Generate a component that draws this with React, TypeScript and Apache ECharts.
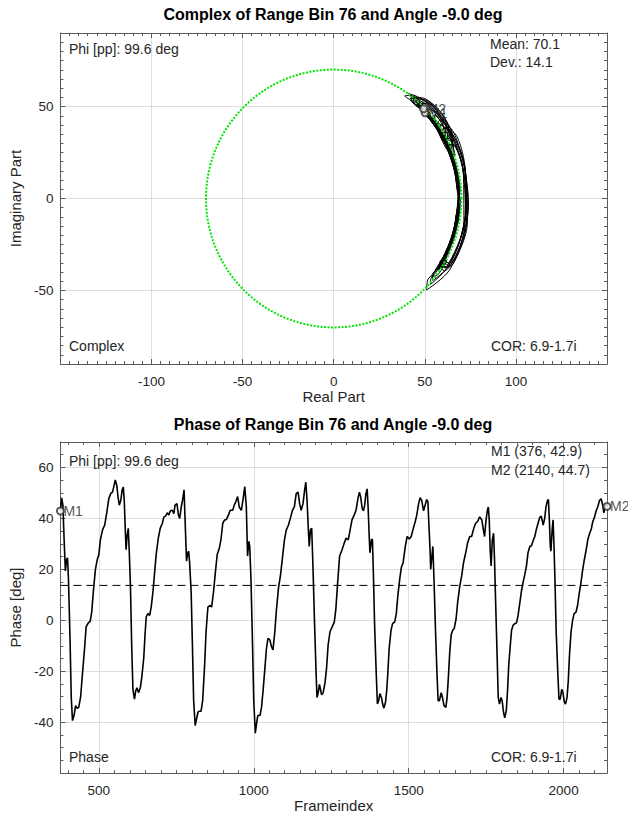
import React, { useEffect, useRef } from "react";
import * as echarts from "echarts";

// ---------- data ----------
const frames = [
  376, 380, 384, 388, 392, 396, 399, 402, 407, 411, 415, 420, 425, 429, 435, 441, 447, 454, 459, 466,
  472, 477, 483, 489, 495, 500, 505, 512, 519, 526, 532, 538, 544, 548, 553, 558, 562, 566, 571, 575,
  579, 582, 586, 588, 591, 595, 598, 602, 606, 610, 615, 619, 623, 628, 634, 639, 645, 649, 653, 658,
  664, 669, 675, 680, 685, 692, 698, 705, 710, 715, 721, 726, 731, 737, 742, 746, 752, 757, 761, 766,
  771, 775, 778, 783, 787, 790, 793, 798, 802, 806, 811, 814, 820, 824, 830, 835, 841, 846, 852, 859,
  864, 870, 876, 882, 889, 894, 900, 906, 912, 918, 924, 932, 937, 942, 948, 953, 960, 965, 971, 976,
  980, 984, 987, 991, 996, 1000, 1005, 1009, 1013, 1020, 1025, 1030, 1036, 1041, 1046, 1052, 1057, 1062, 1068, 1073,
  1080, 1086, 1092, 1099, 1105, 1112, 1118, 1125, 1131, 1137, 1143, 1148, 1153, 1159, 1164, 1168, 1172, 1176, 1179, 1183,
  1187, 1191, 1196, 1201, 1204, 1208, 1212, 1219, 1224, 1230, 1235, 1240, 1246, 1253, 1260, 1265, 1270, 1277, 1279, 1285,
  1292, 1298, 1305, 1311, 1317, 1324, 1330, 1336, 1341, 1345, 1350, 1354, 1358, 1362, 1366, 1369, 1373, 1375, 1380, 1383,
  1386, 1390, 1395, 1399, 1403, 1407, 1412, 1416, 1420, 1425, 1429, 1433, 1437, 1443, 1448, 1455, 1460, 1465, 1471, 1476,
  1482, 1489, 1495, 1502, 1508, 1515, 1521, 1526, 1532, 1537, 1542, 1548, 1553, 1558, 1562, 1565, 1569, 1571, 1575, 1578,
  1582, 1586, 1591, 1595, 1599, 1605, 1609, 1614, 1620, 1624, 1628, 1632, 1637, 1642, 1647, 1653, 1658, 1665, 1671, 1677,
  1684, 1690, 1697, 1703, 1710, 1716, 1722, 1729, 1736, 1742, 1745, 1749, 1754, 1757, 1760, 1763, 1766, 1770, 1774, 1777,
  1780, 1785, 1789, 1793, 1798, 1802, 1806, 1810, 1815, 1819, 1823, 1828, 1832, 1837, 1843, 1848, 1853, 1859, 1864, 1869,
  1875, 1880, 1885, 1891, 1896, 1901, 1907, 1912, 1918, 1923, 1928, 1934, 1939, 1943, 1948, 1951, 1954, 1957, 1959, 1963,
  1966, 1969, 1972, 1976, 1981, 1985, 1989, 1994, 1998, 2002, 2006, 2011, 2015, 2019, 2024, 2029, 2034, 2040, 2045, 2050,
  2056, 2061, 2066, 2072, 2078, 2084, 2089, 2094, 2100, 2105, 2110, 2116, 2121, 2125, 2130, 2134, 2138, 2140,
];

const phaseDeg = [
  42.9, 48.1, 45.2, 31.6, 19.4, 23.9, 24.5, 16.1, -7.1, -30.3, -39.4, -37.4, -33.5, -34.5, -34.2, -30.3, -21.3, -11.0, -2.6, -1.0,
  -0.4, 3.2, 12.3, 20.0, 23.9, 25.8, 31.6, 35.5, 37.4, 42.6, 47.7, 49.7, 50.3, 52.3, 55.1, 52.9, 48.4, 45.2, 47.1, 51.0,
  52.3, 47.1, 33.5, 27.7, 32.9, 36.1, 27.7, 13.5, -9.7, -27.1, -31.0, -27.7, -26.5, -28.4, -26.5, -21.9, -14.8, -5.8, 1.3, 2.6,
  1.9, 5.2, 11.6, 18.7, 25.8, 32.3, 36.1, 38.1, 40.6, 40.9, 42.2, 41.3, 43.0, 43.2, 41.9, 45.2, 45.8, 41.3, 40.0, 44.5,
  47.7, 51.2, 40.6, 23.2, 26.5, 27.1, 22.6, 11.0, -9.7, -31.6, -41.3, -39.5, -36.1, -35.7, -35.7, -31.6, -18.7, -4.5, 5.2, 5.8,
  5.2, 11.0, 18.7, 25.8, 28.4, 31.6, 38.1, 39.4, 39.6, 41.3, 43.2, 43.2, 45.2, 46.5, 48.6, 44.5, 43.2, 47.1, 52.5, 44.5,
  25.2, 31.0, 29.0, 16.1, -9.7, -31.6, -44.3, -40.6, -37.4, -37.4, -34.2, -27.7, -18.7, -11.0, -7.1, -7.7, -10.3, -11.6, -4.5, 3.9,
  12.9, 17.4, 23.9, 31.6, 35.5, 37.4, 40.0, 43.2, 44.5, 49.7, 50.3, 45.8, 43.2, 45.8, 51.0, 54.2, 47.1, 36.1, 29.0, 35.5,
  36.1, 21.3, -0.6, -20.0, -30.3, -28.4, -25.2, -29.3, -28.4, -24.5, -18.7, -9.7, -4.5, -2.6, -0.6, 4.5, 13.5, 25.2, 25.8, 27.7,
  30.3, 32.3, 31.6, 35.5, 39.4, 41.3, 43.2, 47.7, 50.3, 48.4, 43.9, 43.0, 45.2, 49.7, 51.6, 44.5, 31.6, 26.5, 31.9, 31.6,
  18.7, -1.9, -20.0, -32.9, -31.6, -28.8, -30.3, -32.9, -34.5, -32.3, -27.7, -20.0, -11.0, -3.9, -1.3, -0.6, 2.6, 9.7, 16.1, 20.6,
  22.6, 29.0, 32.9, 31.9, 32.9, 36.1, 38.7, 41.3, 45.8, 48.1, 47.1, 43.0, 45.2, 47.4, 46.5, 38.1, 27.7, 20.0, 25.2, 29.0,
  14.8, -1.9, -20.0, -31.6, -31.6, -28.4, -30.3, -33.5, -34.2, -30.3, -22.6, -13.5, -5.8, -3.9, -3.2, 0.6, 7.1, 13.5, 17.4, 22.6,
  26.5, 30.3, 32.9, 32.9, 36.1, 38.1, 38.7, 40.6, 39.4, 34.8, 32.9, 38.7, 43.2, 44.5, 39.4, 27.7, 21.3, 31.6, 34.2, 23.9,
  9.7, -12.3, -30.3, -32.9, -30.3, -31.9, -36.1, -38.3, -35.5, -27.7, -17.4, -9.7, -3.9, -1.9, -1.3, -1.0, 1.9, 7.1, 11.6, 14.8,
  18.1, 21.3, 26.5, 29.0, 29.3, 31.0, 32.9, 35.7, 38.3, 40.4, 40.9, 37.4, 40.0, 44.5, 47.1, 47.4, 39.4, 29.0, 27.1, 35.5,
  39.4, 29.0, 16.1, -4.5, -20.0, -31.0, -31.0, -27.1, -28.4, -31.9, -32.9, -30.3, -23.9, -13.5, -4.5, 0.0, 2.6, 3.2, 5.8, 10.3,
  14.8, 19.4, 23.2, 27.1, 31.6, 34.2, 35.7, 38.7, 40.6, 43.0, 44.5, 47.1, 47.7, 45.8, 42.2, 44.5, 45.5, 44.7,
];

// magnitude of the complex trace per breathing cycle (inner = rising phase, outer = falling phase)
const riseMagnitude = [68.5, 68, 69, 68, 69.5, 68, 69, 68.5, 69, 68.5];
const fallMagnitude = [73, 74, 72.5, 74.5, 73, 74, 73, 73.5, 74, 73];

const meanMagnitude = 70.1;
const phaseMeanLevel = 13.7;
const markerLabels = ["M1", "M2"];

const xComplexTicks = { min: -150, max: 150, interval: 50 };
const yComplexTicks = { min: -90, max: 90 };
const xPhaseTicks = { min: 376, max: 2140 };
const yPhaseTicks = { min: -60, max: 70, interval: 20 };

// ---------- derived series ----------
function buildComplex() {
  const pts: number[][] = [];
  let cycle = 0;
  const n = phaseDeg.length;
  for (let i = 0; i < n; i++) {
    if (i > 0 && phaseDeg[i - 1] < 0 && phaseDeg[i] >= 0) cycle = Math.min(cycle + 1, riseMagnitude.length - 1);
    const a = Math.max(0, i - 1);
    const b = Math.min(n - 1, i + 1);
    const slope = (phaseDeg[b] - phaseDeg[a]) / (frames[b] - frames[a]);
    const w = Math.min(1, Math.max(0, -slope / 2));
    const r = riseMagnitude[cycle] + (fallMagnitude[cycle] - riseMagnitude[cycle]) * w;
    const th = (phaseDeg[i] * Math.PI) / 180;
    pts.push([r * Math.cos(th), r * Math.sin(th)]);
  }
  return pts;
}

function buildCircle() {
  const pts: number[][] = [];
  for (let k = 0; k <= 360; k++) {
    const th = (k * Math.PI) / 180;
    pts.push([meanMagnitude * Math.cos(th), meanMagnitude * Math.sin(th)]);
  }
  return pts;
}

const FONT = '"Liberation Sans", Arial, Helvetica, sans-serif';
const AX = "#5a5a5a";
const TXT = "#262626";
const GRID = "#dedede";
const TICK_FS = 13.5;
const NOTE_FS = 14;
const NAME_FS = 15;
const TITLE_FS = 16;

function axisCommon(extra: any) {
  return {
    type: "value",
    axisLine: { show: true, onZero: false, lineStyle: { color: AX, width: 1 } },
    axisTick: { show: true, inside: true, length: 5, lineStyle: { color: AX } },
    minorTick: { show: true, splitNumber: 10, length: 3, lineStyle: { color: AX } },
    splitLine: { show: false },
    axisLabel: { show: false },
    ...extra,
  };
}

const labelStyle = {
  show: true,
  color: TXT,
  fontSize: TICK_FS,
  fontFamily: FONT,
  showMinLabel: false,
  showMaxLabel: false,
  formatter: (v: number) => String(v),
};

const nameStyle = { color: TXT, fontSize: NAME_FS, fontFamily: FONT };

export default function App() {
  const ref = useRef<HTMLDivElement>(null);

  useEffect(() => {
    if (!ref.current) return;
    const chart = echarts.init(ref.current, null, { renderer: "svg" });
    const complexPts = buildComplex();
    const circlePts = buildCircle();
    const phasePts = frames.map((f, i) => [f, phaseDeg[i]]);
    const last = phaseDeg.length - 1;

    const text = (t: string, x: number, y: number, opts: any = {}) => ({
      type: "text",
      x,
      y,
      z: 100,
      style: {
        text: t,
        fill: opts.fill || TXT,
        font: opts.font || `${NOTE_FS}px ${FONT}`,
        align: opts.align || "left",
        verticalAlign: "middle",
      },
    });

    const markerLabel = {
      show: true,
      position: "right",
      distance: -1.5,
      color: TXT,
      fontSize: NOTE_FS,
      fontFamily: FONT,
      formatter: (p: any) => markerLabels[p.dataIndex],
    };

    chart.setOption({
      animation: false,
      backgroundColor: "#ffffff",
      grid: [
        { left: 59, top: 33, width: 548, height: 331 },
        { left: 59, top: 442, width: 548, height: 332 },
      ],
      xAxis: [
        axisCommon({
          gridIndex: 0,
          position: "bottom",
          ...xComplexTicks,
          axisLabel: { ...labelStyle, margin: 10 },
          splitLine: { show: true, lineStyle: { color: GRID, width: 1 } },
          name: "Real Part",
          nameLocation: "middle",
          nameGap: 25,
          nameTextStyle: nameStyle,
        }),
        axisCommon({ gridIndex: 0, position: "top", ...xComplexTicks }),
        axisCommon({
          gridIndex: 1,
          position: "bottom",
          ...xPhaseTicks,
          splitNumber: 3,
          axisLabel: { ...labelStyle, margin: 10 },
          splitLine: { show: true, lineStyle: { color: GRID, width: 1 } },
          name: "Frameindex",
          nameLocation: "middle",
          nameGap: 24,
          nameTextStyle: nameStyle,
        }),
        axisCommon({ gridIndex: 1, position: "top", ...xPhaseTicks, splitNumber: 3 }),
      ],
      yAxis: [
        axisCommon({
          gridIndex: 0,
          position: "left",
          ...yComplexTicks,
          splitNumber: 4,
          axisLabel: { ...labelStyle, margin: 7 },
          splitLine: { show: true, lineStyle: { color: GRID, width: 1 } },
          name: "Imaginary Part",
          nameLocation: "middle",
          nameGap: 33,
          nameRotate: 90,
          nameTextStyle: nameStyle,
        }),
        axisCommon({ gridIndex: 0, position: "right", ...yComplexTicks, splitNumber: 4 }),
        axisCommon({
          gridIndex: 1,
          position: "left",
          ...yPhaseTicks,
          minorTick: { show: true, splitNumber: 4, length: 3, lineStyle: { color: AX } },
          axisLabel: { ...labelStyle, margin: 7 },
          splitLine: { show: true, lineStyle: { color: GRID, width: 1 } },
          name: "Phase [deg]",
          nameLocation: "middle",
          nameGap: 33,
          nameRotate: 90,
          nameTextStyle: nameStyle,
        }),
        axisCommon({
          gridIndex: 1,
          position: "right",
          ...yPhaseTicks,
          minorTick: { show: true, splitNumber: 4, length: 3, lineStyle: { color: AX } },
        }),
      ],
      series: [
        {
          type: "line",
          xAxisIndex: 0,
          yAxisIndex: 0,
          data: complexPts,
          showSymbol: false,
          smooth: 0.3,
          lineStyle: { color: "#000000", width: 1 },
          z: 3,
        },
        {
          type: "line",
          xAxisIndex: 0,
          yAxisIndex: 0,
          data: circlePts,
          showSymbol: false,
          lineStyle: { color: "#00e600", width: 2, type: [2, 1.5] },
          z: 4,
        },
        {
          type: "scatter",
          xAxisIndex: 0,
          yAxisIndex: 0,
          data: [complexPts[0], complexPts[last]],
          symbol: "emptyCircle",
          symbolSize: 7,
          clip: false,
          itemStyle: { color: "#333333", borderWidth: 0.8 },
          label: markerLabel,
          z: 5,
        },
        {
          type: "line",
          xAxisIndex: 2,
          yAxisIndex: 2,
          data: phasePts,
          showSymbol: false,
          lineStyle: { color: "#000000", width: 1.6 },
          z: 3,
        },
        {
          type: "line",
          xAxisIndex: 2,
          yAxisIndex: 2,
          data: [
            [xPhaseTicks.min, phaseMeanLevel],
            [xPhaseTicks.max, phaseMeanLevel],
          ],
          showSymbol: false,
          lineStyle: { color: "#000000", width: 1, type: [8, 5] },
          z: 2,
        },
        {
          type: "scatter",
          xAxisIndex: 2,
          yAxisIndex: 2,
          data: [phasePts[0], phasePts[last]],
          symbol: "emptyCircle",
          symbolSize: 7,
          clip: false,
          itemStyle: { color: "#333333", borderWidth: 0.8 },
          label: markerLabel,
          z: 5,
        },
      ],
      graphic: [
        text("Complex of Range Bin 76 and Angle -9.0 deg", 333, 14, {
          font: `bold ${TITLE_FS}px ${FONT}`,
          align: "center",
          fill: "#000000",
        }),
        text("Phi [pp]: 99.6 deg", 69, 49),
        text("Mean: 70.1", 490, 44),
        text("Dev.: 14.1", 490, 62),
        text("Complex", 69, 346),
        text("COR: 6.9-1.7i", 491, 346),
        text("Phase of Range Bin 76 and Angle -9.0 deg", 333, 424, {
          font: `bold ${TITLE_FS}px ${FONT}`,
          align: "center",
          fill: "#000000",
        }),
        text("Phi [pp]: 99.6 deg", 69, 461),
        text(`M1 (${frames[0]}, ${phaseDeg[0]})`, 491, 451),
        text(`M2 (${frames[last]}, ${phaseDeg[last]})`, 491, 470),
        text("Phase", 69, 757),
        text("COR: 6.9-1.7i", 491, 757),
      ],
    });

    return () => chart.dispose();
  }, []);

  return (
    <div
      ref={ref}
      style={{ position: "absolute", left: 0, top: 0, width: 628, height: 814, background: "#fff" }}
    />
  );
}
